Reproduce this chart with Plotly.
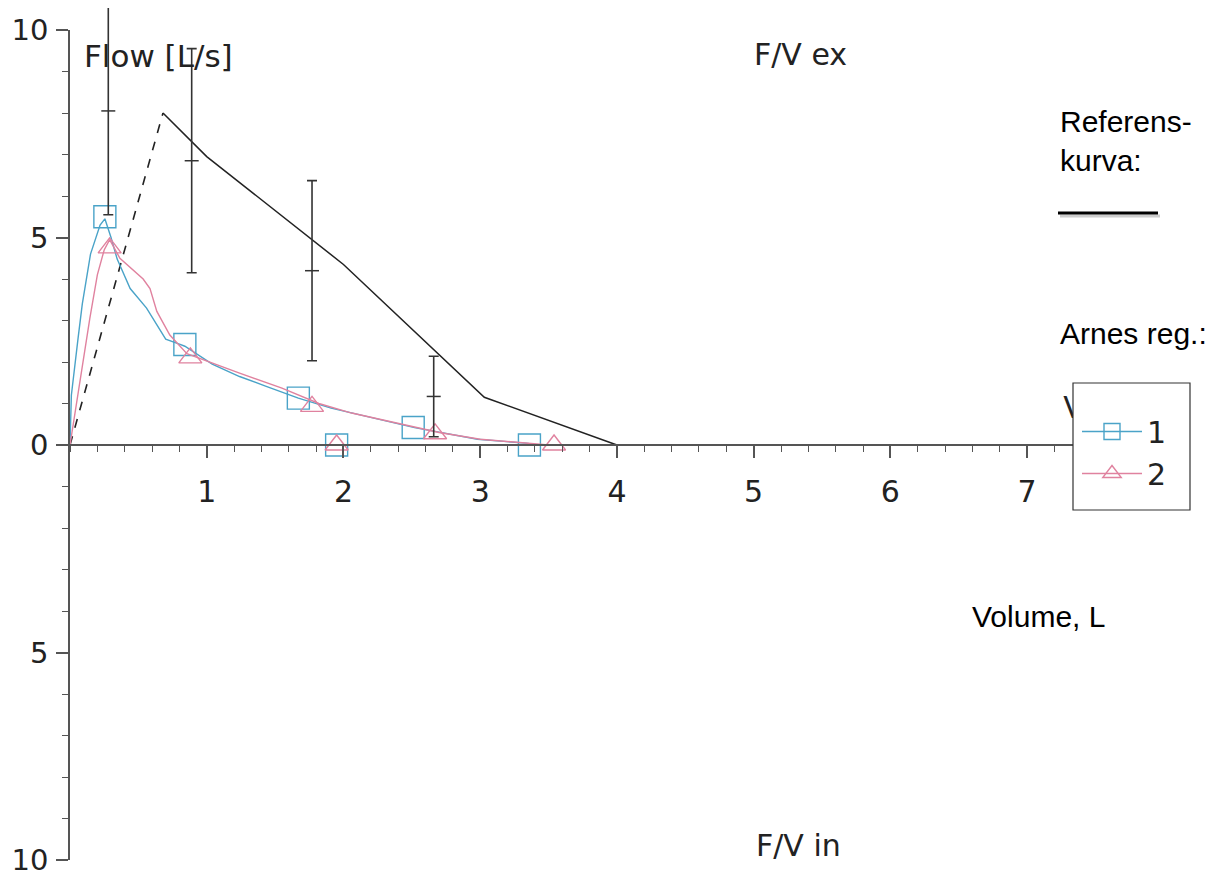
import plotly.graph_objects as go

# ---------------- data ----------------
# Reference curve (black): dashed rising part, solid falling part
ref_rise_x = [0.0, 0.68]
ref_rise_y = [0.0, 8.0]
ref_fall_x = [0.68, 1.0, 2.0, 3.03, 4.0]
ref_fall_y = [8.0, 6.95, 4.35, 1.15, 0.0]

# Error bars of the reference (mean +/- spread)
eb_x = [0.28, 0.89, 1.77, 2.66]
eb_mean = [8.05, 6.85, 4.2, 1.17]
eb_err = [2.5, 2.7, 2.17, 0.97]

# Series 1 (blue, squares)
s1_x = [0.0, 0.01, 0.06, 0.09, 0.15, 0.22, 0.255, 0.30, 0.345, 0.44, 0.56, 0.70,
        0.80, 0.84, 1.04, 1.24, 1.43, 1.67, 1.91, 2.16, 2.52, 2.98, 3.35, 3.40]
s1_y = [0.0, 1.2, 2.6, 3.4, 4.6, 5.3, 5.45, 5.0, 4.48, 3.77, 3.3, 2.55,
        2.43, 2.38, 1.95, 1.65, 1.42, 1.13, 0.89, 0.70, 0.42, 0.14, 0.04, 0.0]
s1_mx = [0.255, 0.84, 1.67, 1.95, 2.51, 3.36]
s1_my = [5.5, 2.42, 1.13, 0.0, 0.42, 0.0]

# Series 2 (pink, triangles)
s2_x = [0.0, 0.07, 0.145, 0.20, 0.25, 0.29, 0.33, 0.365, 0.535, 0.585, 0.635, 0.73,
        0.855, 1.04, 1.24, 1.55, 1.82, 2.06, 2.40, 2.70, 3.00, 3.40, 3.50]
s2_y = [0.0, 1.5, 3.05, 4.1, 4.7, 4.95, 4.7, 4.5, 4.0, 3.77, 3.22, 2.65,
        2.2, 1.97, 1.73, 1.37, 1.0, 0.77, 0.53, 0.30, 0.14, 0.04, 0.0]
s2_mx = [0.29, 0.88, 1.77, 1.95, 2.67, 3.54]
s2_my = [4.75, 2.1, 0.93, 0.0, 0.27, 0.0]

x_ticks = [1, 2, 3, 4, 5, 6, 7]
y_ticks = [-10, -5, 0, 5, 10]
y_ticktext = ["10", "5", "0", "5", "10"]
Y_RANGE = [-10, 10]
X_RANGE = [0, 7.35]

BLUE = "#4aa3c8"
PINK = "#e0829f"
BLACK = "#222222"
AX = "#555555"
FONT = "DejaVu Sans"
ARIAL = "Liberation Sans, Arial"

# ---------------- geometry ----------------
# page body has an 8px default margin: size the figure so the axes land at
# page x 70..1075 and y 30..860 (an extra 22px strip above lets the tallest
# error bar run past the top of the axis as in the original)
OFF = 8
W, H = 1219 - OFF, 883 - OFF
PLOT_L, PLOT_R, PLOT_T, PLOT_B = 70, 1075, 30, 860
AREA_T = OFF                                  # top of paper area (page px)
L, T = PLOT_L - OFF, AREA_T - OFF
R, B = W + OFF - PLOT_R, H + OFF - PLOT_B
PW, PH = PLOT_R - PLOT_L, PLOT_B - AREA_T
Y_DOM_TOP = (PLOT_B - PLOT_T) / PH
UNIT = (PLOT_B - PLOT_T) / (Y_RANGE[1] - Y_RANGE[0])
Y2_RANGE = [Y_RANGE[0], Y_RANGE[0] + PH / UNIT]


def px(x):
    return (x - PLOT_L) / PW


def py(y):
    return (PLOT_B - y) / PH


# ---------------- figure ----------------
fig = go.Figure()

fig.add_trace(go.Scatter(x=ref_rise_x, y=ref_rise_y, mode="lines",
                         line=dict(color=BLACK, width=1.6, dash="dash"),
                         showlegend=False, hoverinfo="skip"))
fig.add_trace(go.Scatter(x=ref_fall_x, y=ref_fall_y, mode="lines",
                         line=dict(color=BLACK, width=1.5),
                         showlegend=False, hoverinfo="skip"))

fig.add_trace(go.Scatter(x=eb_x, y=eb_mean, mode="markers", yaxis="y2",
                         marker=dict(symbol="line-ew", size=10, color="#333",
                                     line=dict(width=1.5, color="#333")),
                         error_y=dict(type="data", array=eb_err, color="#333",
                                      thickness=1.6, width=5),
                         cliponaxis=False, showlegend=False, hoverinfo="skip"))

fig.add_trace(go.Scatter(x=s1_x, y=s1_y, mode="lines",
                         line=dict(color=BLUE, width=1.4),
                         legendgroup="1", showlegend=False))
fig.add_trace(go.Scatter(x=s1_mx, y=s1_my, mode="markers",
                         marker=dict(symbol="square-open", size=22, color=BLUE,
                                     line=dict(width=1.4)),
                         legendgroup="1", showlegend=False, cliponaxis=False))
fig.add_trace(go.Scatter(x=s2_x, y=s2_y, mode="lines",
                         line=dict(color=PINK, width=1.4),
                         legendgroup="2", showlegend=False))
fig.add_trace(go.Scatter(x=s2_mx, y=s2_my, mode="markers",
                         marker=dict(symbol="triangle-up-open", size=20, color=PINK,
                                     line=dict(width=1.4)),
                         legendgroup="2", showlegend=False, cliponaxis=False))

# legend entries
fig.add_trace(go.Scatter(x=[None], y=[None], mode="lines+markers", name="1",
                         line=dict(color=BLUE, width=1.4),
                         marker=dict(symbol="square-open", size=22, color=BLUE,
                                     line=dict(width=1.4)),
                         legendgroup="1"))
fig.add_trace(go.Scatter(x=[None], y=[None], mode="lines+markers", name="2",
                         line=dict(color=PINK, width=1.4),
                         marker=dict(symbol="triangle-up-open", size=20, color=PINK,
                                     line=dict(width=1.4)),
                         legendgroup="2"))

# partly hidden axis label fragment (clipped by plot area, covered by legend box)
fig.add_trace(go.Scatter(x=[7.34], y=[0.82], mode="text", text=["V"],
                         textfont=dict(family=FONT, size=30, color=BLACK),
                         cliponaxis=True, showlegend=False, hoverinfo="skip"))

fig.update_layout(
    width=W, height=H,
    margin=dict(l=L, r=R, t=T, b=B, autoexpand=False),
    plot_bgcolor="rgba(0,0,0,0)", paper_bgcolor="white",
    font=dict(family=FONT, size=30, color=BLACK),
    xaxis=dict(range=X_RANGE, anchor="free", position=0.5 * Y_DOM_TOP,
               automargin=False,
               showline=True, linecolor=AX, linewidth=1.5,
               ticks="outside", ticklen=12, tickwidth=1.5, tickcolor=AX,
               tickvals=x_ticks, ticktext=[str(v) for v in x_ticks],
               tickfont=dict(family=FONT, size=30, color=BLACK),
               ticklabelstandoff=8,
               showgrid=False, zeroline=False,
               minor=dict(dtick=0.2, tick0=0, ticks="outside", ticklen=6,
                          tickwidth=1.2, tickcolor=AX, showgrid=False)),
    yaxis=dict(range=Y_RANGE, domain=[0, Y_DOM_TOP], automargin=False,
               showline=True, linecolor=AX, linewidth=1.5,
               ticks="outside", ticklen=12, tickwidth=1.5, tickcolor=AX,
               tickvals=y_ticks, ticktext=y_ticktext,
               tickfont=dict(family=FONT, size=29, color=BLACK),
               ticklabelstandoff=2,
               showgrid=False, zeroline=False,
               minor=dict(dtick=1, tick0=0, ticks="outside", ticklen=6,
                          tickwidth=1.2, tickcolor=AX, showgrid=False)),
    yaxis2=dict(range=Y2_RANGE, domain=[0, 1], anchor="x", visible=False,
                automargin=False, showgrid=False, zeroline=False),
    legend=dict(x=px(1077), xanchor="left", y=py(452.5), yanchor="middle",
                bgcolor="rgba(0,0,0,0)", borderwidth=0,
                font=dict(family=FONT, size=30, color=BLACK),
                itemwidth=60, tracegroupgap=0, itemsizing="trace"),
    showlegend=True,
)

# legend box, underline of "Referens-kurva:"
fig.add_shape(type="rect", xref="paper", yref="paper",
              x0=px(1073), x1=px(1190), y0=py(510), y1=py(383),
              fillcolor="white", line=dict(color="#333", width=1.2), layer="above")
fig.add_shape(type="line", xref="paper", yref="paper",
              x0=px(1060), x1=px(1160), y0=py(216), y1=py(216),
              line=dict(color="#cccccc", width=3))
fig.add_shape(type="line", xref="paper", yref="paper",
              x0=px(1058), x1=px(1158), y0=py(213), y1=py(213),
              line=dict(color="black", width=3))

ann = [
    dict(text="Flow [L/s]", x=px(158), y=py(56), font=dict(family=FONT, size=31)),
    dict(text="F/V ex", x=px(800), y=py(55), font=dict(family=FONT, size=30)),
    dict(text="F/V in", x=px(798), y=py(845), font=dict(family=FONT, size=30)),
    dict(text="Volume, L", x=px(1038), y=py(616), font=dict(family=ARIAL, size=30, color="black")),
]
for a in ann:
    fig.add_annotation(xref="paper", yref="paper", showarrow=False,
                       xanchor="center", yanchor="middle", **a)

fig.add_annotation(xref="paper", yref="paper", showarrow=False,
                   text="Referens-<br>kurva:", x=px(1058), y=py(141),
                   xanchor="left", yanchor="middle", align="left",
                   font=dict(family=ARIAL, size=30, color="black"))
fig.add_annotation(xref="paper", yref="paper", showarrow=False,
                   text="Arnes reg.:", x=px(1058), y=py(333),
                   xanchor="left", yanchor="middle", align="left",
                   font=dict(family=ARIAL, size=30, color="black"))

fig.write_html("out.html")
